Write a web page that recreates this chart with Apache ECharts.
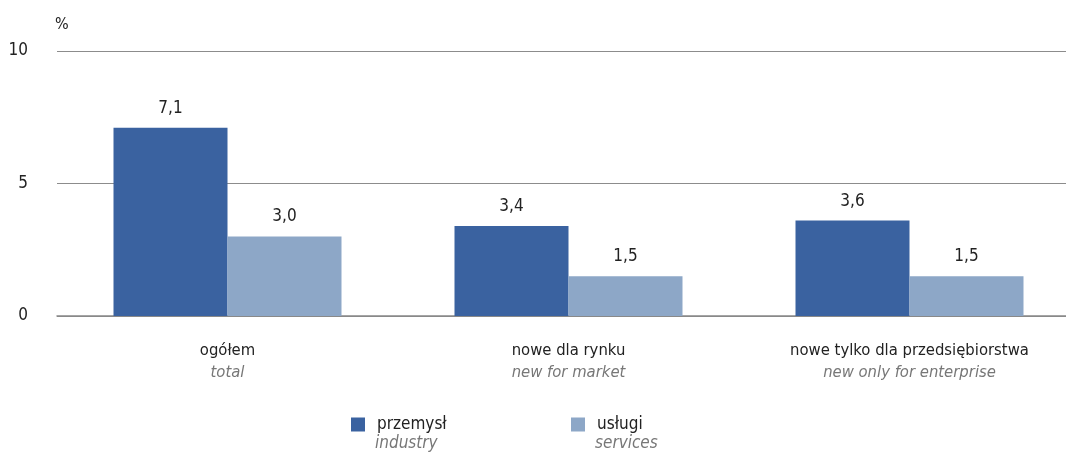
<!DOCTYPE html>
<html><head><meta charset="utf-8">
<script src="https://cdn.jsdelivr.net/npm/echarts@6/dist/echarts.min.js"></script>
<style>html,body{margin:0;padding:0;background:#fff;overflow:hidden}#c{width:1080px;height:454px}</style>
</head><body><div id="c"></div>
<script>
const categoriesPl = ['ogółem', 'nowe dla rynku', 'nowe tylko dla przedsiębiorstwa'];
const categoriesEn = ['total', 'new for market', 'new only for enterprise'];
const industry = [7.1, 3.4, 3.6];
const services = [3.0, 1.5, 1.5];
const seriesPl = ['przemysł', 'usługi'];
const seriesEn = ['industry', 'services'];
const yTicks = [0, 5, 10];

const FONT = '"DejaVu Sans Condensed", "DejaVu Sans", sans-serif';
const FS = 16.5;
const chart = echarts.init(document.getElementById('c'));
const lbl = {
  show: true, position: 'top', distance: 11, color: '#222', fontSize: 17, fontFamily: FONT,
  formatter: p => p.value.toFixed(1).replace('.', ',')
};
chart.setOption({
  animation: false,
  textStyle: { fontFamily: FONT },
  grid: { left: 57, right: 0, top: 51, bottom: 138 },
  legend: [
    { data: [seriesPl[0]], left: 346, top: 411, itemWidth: 14, itemHeight: 14, itemGap: 0,
      textStyle: { fontSize: 17, color: '#222', fontFamily: FONT, padding: [0, 0, 0, 7] }, icon: 'rect' },
    { data: [seriesPl[1]], left: 566, top: 411, itemWidth: 14, itemHeight: 14, itemGap: 0,
      textStyle: { fontSize: 17, color: '#222', fontFamily: FONT, padding: [0, 0, 0, 7] }, icon: 'rect' }
  ],
  graphic: [
    { type: 'text', left: 55, top: 17, style: { text: '%', fontSize: 16, fill: '#222', fontFamily: FONT } },
    { type: 'text', left: 375, top: 435, style: { text: seriesEn[0], fontSize: 17, fill: '#777', fontStyle: 'italic', fontFamily: FONT } },
    { type: 'text', left: 595, top: 435, style: { text: seriesEn[1], fontSize: 17, fill: '#777', fontStyle: 'italic', fontFamily: FONT } }
  ],
  xAxis: {
    type: 'category', data: categoriesPl,
    axisLine: { lineStyle: { color: '#888', width: 1.5 } }, axisTick: { show: false },
    axisLabel: {
      margin: 24, interval: 0,
      formatter: (v, i) => '{a|' + v + '}\n{b|' + categoriesEn[i] + '}',
      rich: {
        a: { fontSize: FS, color: '#222', fontFamily: FONT, lineHeight: 22 },
        b: { fontSize: FS, color: '#777', fontStyle: 'italic', fontFamily: FONT, lineHeight: 22 }
      }
    }
  },
  yAxis: {
    type: 'value', min: 0, max: 10, interval: 5,
    axisLine: { show: false }, axisTick: { show: false },
    axisLabel: { margin: 29, fontSize: 17, color: '#222', fontFamily: FONT,
      formatter: v => yTicks.includes(v) ? String(v) : '' },
    splitLine: { lineStyle: { color: '#8c8c8c', width: 1.2 } }
  },
  series: [
    { name: seriesPl[0], type: 'bar', data: industry, barWidth: 114, barGap: '0%',
      itemStyle: { color: '#3a62a0' }, label: lbl },
    { name: seriesPl[1], type: 'bar', data: services, barWidth: 114, barGap: '0%',
      itemStyle: { color: '#8da7c7' }, label: lbl }
  ]
});
</script></body></html>
